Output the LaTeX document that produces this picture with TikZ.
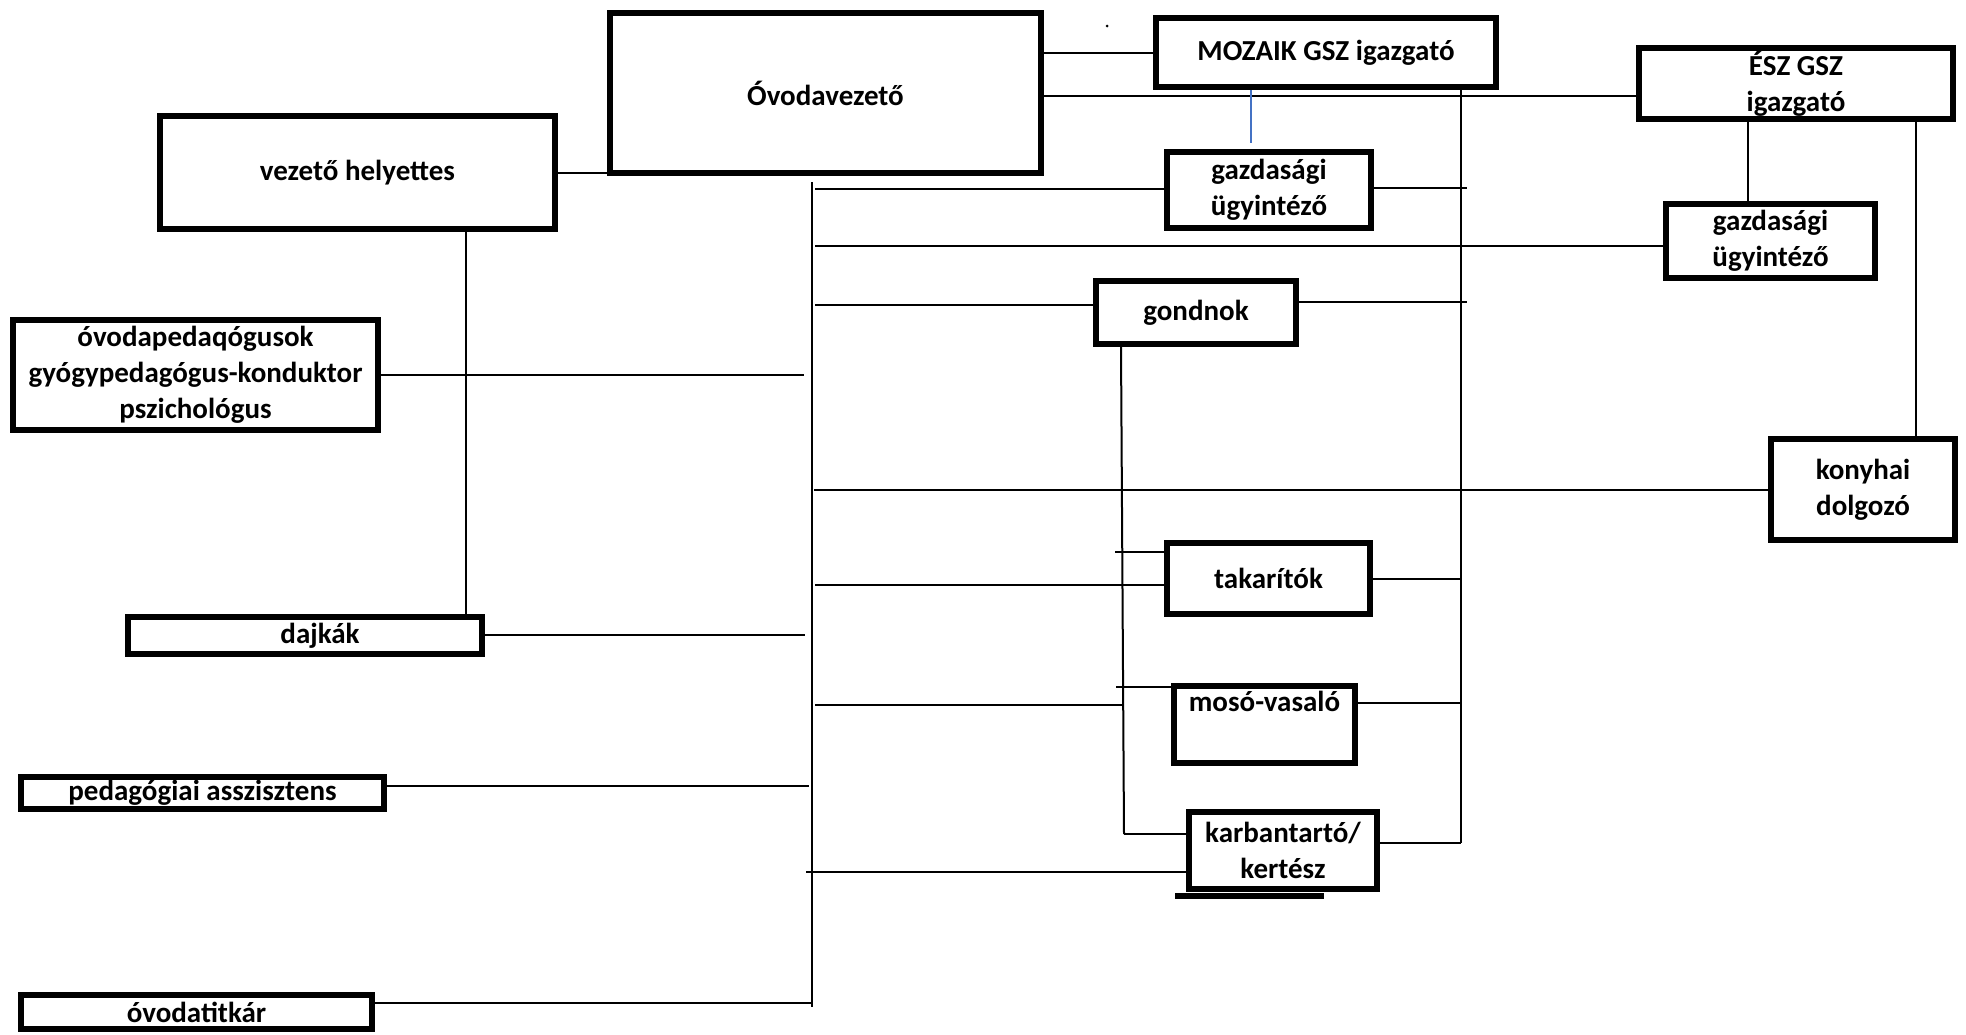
\documentclass[tikz,border=0pt]{standalone}
\usepackage{fontspec}
\setmainfont{Carlito}
\usepackage{tikz}
\definecolor{linkblue}{RGB}{68,114,196}

\begin{document}
\begin{tikzpicture}[
  x=1pt, y=-1pt,
  every node/.style={font=\bfseries\fontsize{29}{36}\selectfont},
  box/.style={draw, line width=6pt, inner sep=0pt, align=center},
  link/.style={line width=2pt},
  bluelink/.style={line width=2pt, linkblue}
]
  \useasboundingbox (0,0) rectangle (1966,1034);

  \node[box, minimum width=431, minimum height=160] (vezeto)      at (825.5,93)   {Óvodavezető};
  \node[box, minimum width=340, minimum height=69]  (mozaik)      at (1326,52.5)  {MOZAIK GSZ igazgató};
  \node[box, minimum width=314, minimum height=71]  (esz)         at (1796,83.5)  {ÉSZ GSZ\\igazgató};
  \node[box, minimum width=395, minimum height=113] (helyettes)   at (357.5,172.5){vezető helyettes};
  \node[box, minimum width=204, minimum height=76]  (gazd1)       at (1269,190)   {gazdasági\\ügyintéző};
  \node[box, minimum width=209, minimum height=74]  (gazd2)       at (1770.5,241) {gazdasági\\ügyintéző};
  \node[box, minimum width=200, minimum height=63]  (gondnok)     at (1196,312.5) {gondnok};
  \node[box, minimum width=365, minimum height=110] (pedagogusok) at (195.5,375)  {óvodapedaqógusok\\gyógypedagógus-konduktor\\pszichológus};
  \node[box, minimum width=184, minimum height=101] (konyhai)     at (1863,489.5) {konyhai\\dolgozó};
  \node[box, minimum width=203, minimum height=71]  (takaritok)   at (1268.5,578.5){takarítók};
  \node[box, minimum width=354, minimum height=37]  (dajkak)      at (305,635.5)  {\hspace*{30pt}dajkák};
  \node[box, minimum width=181, minimum height=77]  (moso)        at (1264.5,724.5){mosó-vasaló\\\strut};
  \node[box, minimum width=363, minimum height=32]  (asszisztens) at (202.5,793)  {pedagógiai asszisztens};
  \node[box, minimum width=188, minimum height=77]  (karbantarto) at (1283,850.5) {karbantartó/\\kertész};
  \node[box, minimum width=351, minimum height=34]  (titkar)      at (196.5,1012) {óvodatitkár};
  \fill (1175,893) rectangle (1324,899);
  \fill (1107,26) circle (1.5);

  \coordinate (trtop) at (812,182);
  \coordinate (trbot) at (812,1007);
  \coordinate (rtop)  at (1461,0);
  \coordinate (rbot)  at (1461,843);
  \coordinate (subx)  at (1121,0);
  \coordinate (dajx)  at (466,0);
  \coordinate (eszx1) at (1748,0);
  \coordinate (eszx2) at (1916,0);
  \coordinate (eszy)  at (0,96);
  \coordinate (bluex) at (1251,143);

  \coordinate (t1)  at (815,189);
  \coordinate (t2)  at (815,246);
  \coordinate (t3)  at (815,305);
  \coordinate (t4)  at (804,375);
  \coordinate (t5)  at (814,490);
  \coordinate (t6)  at (815,585);
  \coordinate (t7)  at (805,635);
  \coordinate (t8)  at (815,705);
  \coordinate (t9)  at (809,786);
  \coordinate (t10) at (806,872);
  \coordinate (t11) at (811,1003);
  \coordinate (r1)  at (1467,188);
  \coordinate (r2)  at (1467,302);
  \coordinate (r3)  at (1461,579);
  \coordinate (r4)  at (1461,703);
  \coordinate (s1)  at (1115,552);
  \coordinate (s2)  at (1116,687);
  \coordinate (s3)  at (1124,834);

  \draw[link] (helyettes.east) -- (helyettes.east -| vezeto.west);
  \draw[link] (vezeto.east |- mozaik.west) -- (mozaik.west);
  \draw[link] (vezeto.east |- eszy) -- (esz.west |- eszy);
  \draw[bluelink] (mozaik.south -| bluex) -- (bluex);
  \draw[link] (trtop) -- (trbot);
  \draw[link] (rtop |- mozaik.south) -- (rbot);
  \draw[link] (subx |- gondnok.south) -- (s3);
  \draw[link] (helyettes.south -| dajx) -- (dajkak.north -| dajx);
  \draw[link] (esz.south -| eszx1) -- (gazd2.north -| eszx1);
  \draw[link] (esz.south -| eszx2) -- (konyhai.north -| eszx2);

  \draw[link] (t1) -- (gazd1.west |- t1);
  \draw[link] (t2) -- (gazd2.west |- t2);
  \draw[link] (t3) -- (gondnok.west |- t3);
  \draw[link] (pedagogusok.east |- t4) -- (t4);
  \draw[link] (t5) -- (konyhai.west |- t5);
  \draw[link] (t6) -- (takaritok.west |- t6);
  \draw[link] (dajkak.east |- t7) -- (t7);
  \draw[link] (t8) -- (t8 -| s3);
  \draw[link] (asszisztens.east |- t9) -- (t9);
  \draw[link] (t10) -- (karbantarto.west |- t10);
  \draw[link] (titkar.east |- t11) -- (t11);

  \draw[link] (gazd1.east |- r1) -- (r1);
  \draw[link] (gondnok.east |- r2) -- (r2);
  \draw[link] (takaritok.east |- r3) -- (r3);
  \draw[link] (moso.east |- r4) -- (r4);
  \draw[link] (karbantarto.east |- rbot) -- (rbot);

  \draw[link] (s1) -- (takaritok.west |- s1);
  \draw[link] (s2) -- (moso.west |- s2);
  \draw[link] (s3) -- (karbantarto.west |- s3);
\end{tikzpicture}
\end{document}
